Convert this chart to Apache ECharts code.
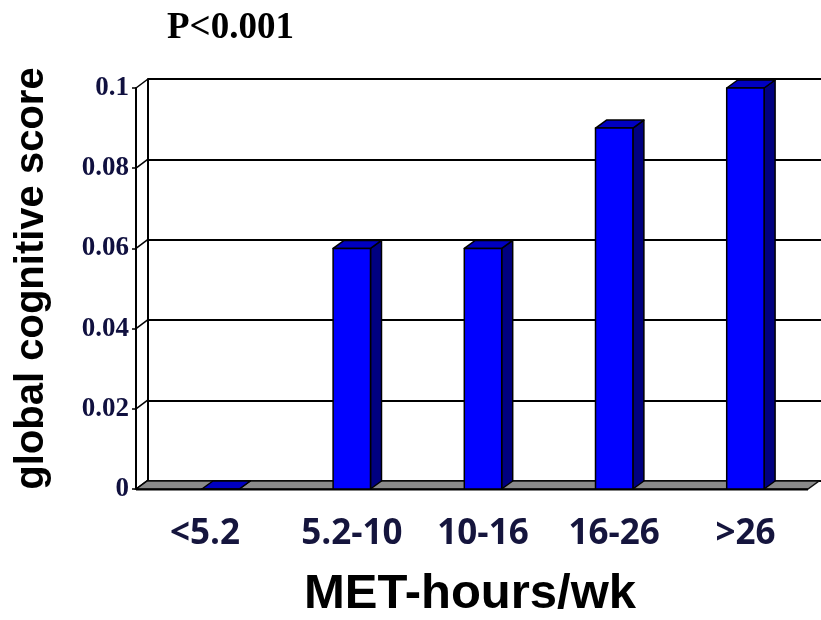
<!DOCTYPE html>
<html>
<head>
<meta charset="utf-8">
<script src="https://cdn.jsdelivr.net/npm/echarts@6/dist/echarts.min.js"></script>
<style>
html,body{margin:0;padding:0;background:#fff;}
#chart{width:821px;height:620px;}
</style>
</head>
<body>
<div id="chart"></div>
<script>
const categories = ['<5.2', '5.2-10', '10-16', '16-26', '>26'];
const scores = [0, 0.06, 0.06, 0.09, 0.1];
const yTickValues = [0, 0.02, 0.04, 0.06, 0.08, 0.1];
const annotation = 'P<0.001';
const yTitle = 'global cognitive score';
const xTitle = 'MET-hours/wk';

const DX = 11, DY = -8;        // depth offset of the pseudo-3D look
const AXIS_OFFSET = 19;        // front y axis sits left of the category band

const chart = echarts.init(document.getElementById('chart'));

function barItem(params, api) {
  const i = api.value(0), v = api.value(1);
  const base = api.coord([i, 0]);
  const top = api.coord([i, v]);
  const w = api.size([1, 0])[0] * 0.285;
  const x0 = base[0] - w / 2, x1 = base[0] + w / 2;
  const yb = base[1], yt = top[1];
  const stroke = { stroke: '#000', lineWidth: 1.5, lineJoin: 'round' };
  return {
    type: 'group',
    children: [
      { type: 'polygon', shape: { points: [[x1, yt], [x1 + DX, yt + DY], [x1 + DX, yb + DY], [x1, yb]] },
        style: Object.assign({ fill: '#000080' }, stroke) },
      { type: 'polygon', shape: { points: [[x0, yt], [x0 + DX, yt + DY], [x1 + DX, yt + DY], [x1, yt]] },
        style: Object.assign({ fill: '#0000c0' }, stroke) },
      { type: 'rect', shape: { x: x0, y: yt, width: w, height: Math.max(yb - yt, 0) },
        style: Object.assign({ fill: '#0000ff' }, stroke) }
    ]
  };
}

function floorItem(params, api) {
  const cs = params.coordSys;
  const yb = api.coord([0, 0])[1];
  const xl = cs.x - AXIS_OFFSET, xr = cs.x + cs.width - 3;
  return {
    type: 'group',
    children: [
      { type: 'polygon', shape: { points: [[xl, yb], [xl + DX, yb + DY], [xr + DX, yb + DY], [xr, yb]] },
        style: { fill: '#8a8a8a', stroke: '#111', lineWidth: 1.5 } },
      { type: 'line', shape: { x1: xl, y1: yb + 0.5, x2: xr, y2: yb + 0.5 },
        style: { stroke: '#000', lineWidth: 2 } }
    ]
  };
}

function connectorItem(params, api) {
  const cs = params.coordSys;
  const y = api.coord([0, api.value(0)])[1];
  const xa = cs.x - AXIS_OFFSET;
  return {
    type: 'line',
    shape: { x1: xa, y1: y, x2: xa + DX + 1, y2: y + DY - 1 },
    style: { stroke: '#000', lineWidth: 1.5 }
  };
}

const option = {
  backgroundColor: '#ffffff',
  animation: false,
  title: {
    text: annotation,
    left: 162, top: 5,
    textStyle: { fontFamily: 'Liberation Serif', fontWeight: 'bold', fontSize: 37, color: '#000' }
  },
  grid: [
    { left: 155, right: 10, top: 88, bottom: 131, outerBoundsMode: 'none', containLabel: false },   // front plane
    { left: 148, right: 0, top: 79, bottom: 139, outerBoundsMode: 'none', containLabel: false }     // back wall
  ],
  xAxis: [
    {
      type: 'category', gridIndex: 0, data: categories,
      axisLine: { show: false }, axisTick: { show: false },
      axisLabel: {
        interval: 0, margin: 28, color: '#15153d',
        fontFamily: 'Open Sans', fontWeight: 'bold', fontSize: 35,
        formatter: (v, i) => i === 0 ? '{a|' + v + '}' : v,
        rich: { a: { fontFamily: 'Open Sans', fontWeight: 'bold', fontSize: 35, color: '#15153d', padding: [0, 31, 0, 0] } }
      },
      name: xTitle, nameLocation: 'middle', nameGap: 81,
      nameTextStyle: { fontFamily: 'Liberation Sans', fontWeight: 'bold', fontSize: 49, color: '#000', padding: [0, 26, 0, 0] }
    },
    { type: 'value', gridIndex: 1, min: 0, max: 1, show: false }
  ],
  yAxis: [
    {
      type: 'value', gridIndex: 0, min: 0, max: 0.1, interval: 0.02,
      offset: AXIS_OFFSET,
      axisLine: { show: true, lineStyle: { color: '#000', width: 2 } },
      axisTick: { show: true, length: 4, lineStyle: { color: '#000', width: 1.5 } },
      splitLine: { show: false },
      axisLabel: { margin: 7, color: '#10103f', fontFamily: 'Liberation Serif', fontWeight: 'bold', fontSize: 27 },
      name: yTitle, nameLocation: 'middle', nameGap: 84, nameRotate: 90,
      nameTextStyle: { fontFamily: 'Liberation Sans', fontWeight: 'bold', fontSize: 40, color: '#000', padding: [0, 0, 0, 20] }
    },
    {
      type: 'value', gridIndex: 1, min: 0, max: 0.1, interval: 0.02,
      axisLine: { show: true, lineStyle: { color: '#000', width: 2 } },
      axisTick: { show: false }, axisLabel: { show: false },
      splitLine: { show: true, lineStyle: { color: '#000', width: 2 } }
    }
  ],
  series: [
    { type: 'custom', xAxisIndex: 0, yAxisIndex: 0, z: 2, renderItem: floorItem, data: [[0]], silent: true },
    { type: 'custom', xAxisIndex: 0, yAxisIndex: 0, z: 3, renderItem: connectorItem,
      data: yTickValues.map(v => [v]), encode: { y: 0 }, silent: true },
    { type: 'custom', xAxisIndex: 0, yAxisIndex: 0, z: 4, renderItem: barItem,
      data: categories.map((c, i) => [i, scores[i]]), encode: { x: 0, y: 1 } }
  ]
};
chart.setOption(option);
</script>
</body>
</html>
